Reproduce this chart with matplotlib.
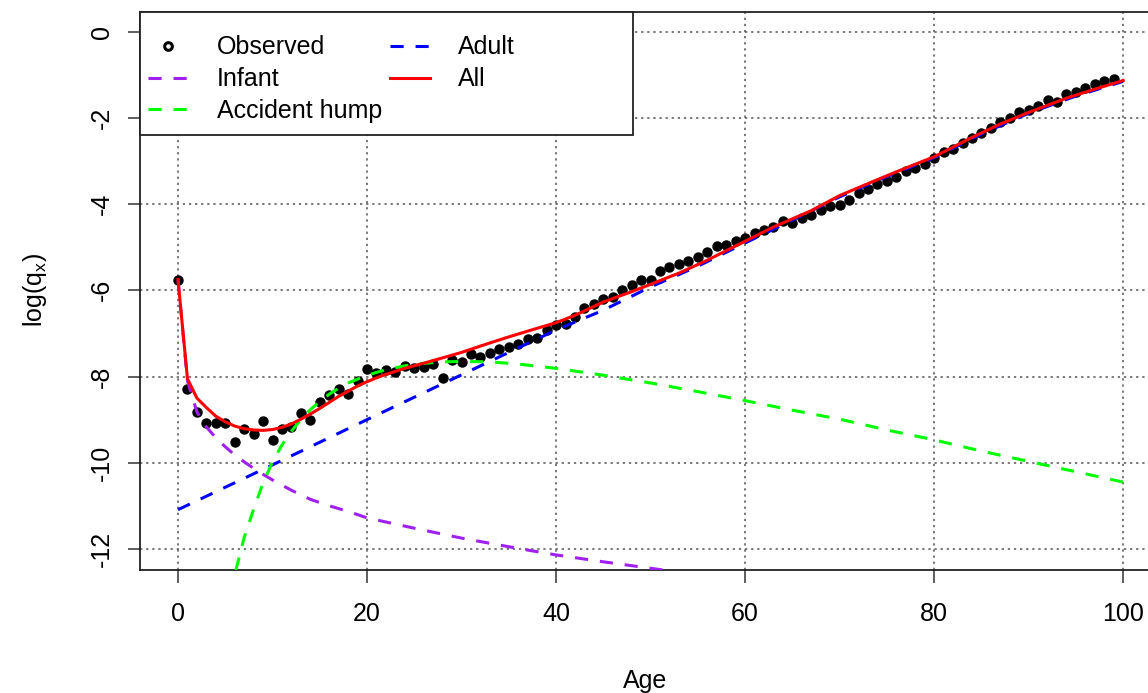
import matplotlib
matplotlib.use("Agg")
import matplotlib.pyplot as plt
from matplotlib.lines import Line2D
from matplotlib.patches import Rectangle

plt.rcParams['font.family'] = ['Liberation Sans', 'DejaVu Sans']

# Observed log(q_x), ages 0..99
obs_age = list(range(0, 100))
obs_val = [-5.75, -8.29, -8.82, -9.08, -9.08, -9.08, -9.52, -9.22, -9.33, -9.03,
           -9.47, -9.22, -9.18, -8.84, -9.00, -8.58, -8.42, -8.29, -8.40, -8.11,
           -7.83, -7.92, -7.84, -7.90, -7.75, -7.80, -7.78, -7.71, -8.04, -7.61,
           -7.67, -7.47, -7.55, -7.46, -7.36, -7.32, -7.24, -7.13, -7.11, -6.93,
           -6.80, -6.77, -6.62, -6.42, -6.31, -6.19, -6.16, -5.99, -5.87, -5.75,
           -5.75, -5.56, -5.46, -5.38, -5.31, -5.23, -5.12, -4.98, -4.94, -4.86,
           -4.78, -4.68, -4.59, -4.53, -4.40, -4.44, -4.32, -4.25, -4.13, -4.04,
           -4.01, -3.90, -3.74, -3.65, -3.53, -3.46, -3.38, -3.23, -3.16, -3.06,
           -2.93, -2.80, -2.72, -2.57, -2.47, -2.34, -2.24, -2.10, -1.99, -1.87,
           -1.81, -1.73, -1.59, -1.62, -1.44, -1.40, -1.31, -1.21, -1.14, -1.09]

# Infant component
inf_age = [0, 1, 2, 3, 4, 5, 6, 7, 8, 9, 10, 12, 14, 16, 18, 20, 25, 30, 36, 40, 45, 50, 55]
inf_val = [-5.75, -8.10, -8.82, -9.17, -9.42, -9.63, -9.82, -9.98, -10.13, -10.27,
           -10.40, -10.64, -10.85, -11.00, -11.13, -11.28, -11.52, -11.75, -11.99,
           -12.14, -12.30, -12.45, -12.60]

# Accident hump component
hump_age = [4, 5, 6, 7, 8, 9, 10, 11, 12, 13, 14, 15, 16, 17, 18, 20, 22, 25, 28, 30,
            33, 36, 40, 45, 50, 55, 60, 65, 70, 75, 80, 85, 90, 95, 100]
hump_val = [-15.50, -13.85, -12.60, -11.74, -11.08, -10.47, -9.98, -9.59, -9.27, -9.00,
            -8.77, -8.58, -8.41, -8.27, -8.15, -7.97, -7.84, -7.71, -7.66, -7.65,
            -7.66, -7.71, -7.81, -7.97, -8.15, -8.35, -8.56, -8.78, -8.99, -9.24,
            -9.47, -9.73, -9.97, -10.21, -10.45]

# Adult component
adult_age = [0, 10, 20, 30, 40, 45, 50, 55, 60, 65, 70, 75, 80, 85, 90, 95, 100]
adult_val = [-11.09, -10.05, -9.00, -7.96, -6.92, -6.46, -5.92, -5.44, -4.90, -4.37,
             -3.83, -3.36, -2.92, -2.37, -1.89, -1.49, -1.15]

# All (fitted total)
all_age = [0, 1, 2, 3, 4, 5, 6, 7, 8, 9, 10, 11, 12, 13, 14, 15, 16, 17, 18, 19, 20,
           21, 22, 23, 24, 25, 27, 30, 33, 35, 38, 40, 42, 45, 48, 50, 53, 56, 60, 63,
           67, 70, 74, 77, 80, 84, 87, 90, 94, 97, 100]
all_val = [-5.75, -8.05, -8.50, -8.72, -8.92, -9.05, -9.15, -9.21, -9.24, -9.25, -9.23,
           -9.18, -9.10, -8.99, -8.87, -8.74, -8.60, -8.46, -8.34, -8.22, -8.12, -8.03,
           -7.95, -7.88, -7.81, -7.75, -7.63, -7.44, -7.22, -7.08, -6.88, -6.75, -6.58,
           -6.27, -6.03, -5.86, -5.60, -5.30, -4.86, -4.53, -4.15, -3.80, -3.43, -3.16,
           -2.90, -2.45, -2.14, -1.87, -1.54, -1.33, -1.13]

x_ticks = [0, 20, 40, 60, 80, 100]
y_ticks = [0, -2, -4, -6, -8, -10, -12]

W, H = 1148, 693
fig = plt.figure(figsize=(W / 100, H / 100), dpi=100)
ax_l, ax_r, ax_t, ax_b = 140, 1161, 12, 570
ax = fig.add_axes([ax_l / W, (H - ax_b) / H, (ax_r - ax_l) / W, (ax_b - ax_t) / H])
ax.set_xlim(-4.02, 104.0)
ax.set_ylim(-12.49, 0.46)

FS = 18
dash = (0, (4.3, 3.9))
lw = 2.2

ax.grid(True, color='#555555', linestyle=(0, (1.5, 2.5)), linewidth=1.1, zorder=0)
ax.set_axisbelow(True)

ax.plot(obs_age, obs_val, 'o', color='black', markersize=6.5, zorder=2)
ax.plot(inf_age, inf_val, color='#A020F0', linestyle=dash, linewidth=lw, zorder=3)
ax.plot(adult_age, adult_val, color='#0000FF', linestyle=dash, linewidth=lw, zorder=3)
ax.plot(hump_age, hump_val, color='#00FF00', linestyle=dash, linewidth=lw, zorder=3)
ax.plot(all_age, all_val, color='#FF0000', linestyle='-', linewidth=lw, zorder=4)

ax.set_xticks(x_ticks)
ax.set_yticks(y_ticks)
ax.set_xticklabels([str(t) for t in x_ticks], fontsize=FS)
ax.set_yticklabels([str(t) for t in y_ticks], fontsize=FS, rotation=90, va='center')
ax.tick_params(axis='both', direction='out', length=9, width=1.1, color='#333333')
ax.tick_params(axis='x', pad=14)
ax.tick_params(axis='y', pad=10)
for s in ax.spines.values():
    s.set_linewidth(1.3)
    s.set_color('#222222')

fig.text(645 / W, 1 - 681 / H, 'Age', fontsize=FS, ha='center', va='center')
fig.text(35 / W, 1 - 290 / H, r'log(q$_\mathregular{x}$)', fontsize=FS, rotation=90,
         ha='center', va='center')

# legend box
px_w = ax_r - ax_l
px_h = ax_b - ax_t
box_w = (633 - ax_l) / px_w
box_h = (135 - ax_t) / px_h
ax.add_patch(Rectangle((0, 1 - box_h), box_w, box_h, transform=ax.transAxes,
                       facecolor='white', edgecolor='#222222', linewidth=1.3,
                       zorder=5, clip_on=False))

handles = [
    Line2D([], [], linestyle='none', marker='o', markersize=5.5, markerfacecolor='white',
           markeredgecolor='black', markeredgewidth=2.2),
    Line2D([], [], color='#A020F0', linestyle=dash, linewidth=lw),
    Line2D([], [], color='#00FF00', linestyle=dash, linewidth=lw),
    Line2D([], [], color='#0000FF', linestyle=dash, linewidth=lw),
    Line2D([], [], color='#FF0000', linestyle='-', linewidth=lw),
]
labels = ['Observed', 'Infant', 'Accident hump', 'Adult', 'All']
leg = ax.legend(handles, labels, ncol=2, loc='upper left',
                bbox_to_anchor=((148 - ax_l) / px_w, 1 - (35.5 - ax_t) / px_h),
                borderaxespad=0, borderpad=0, frameon=False, fontsize=FS,
                handlelength=1.6, handletextpad=1.15, columnspacing=0.3,
                labelspacing=0.31)
leg.set_zorder(6)

fig.savefig('out.png', dpi=100)
